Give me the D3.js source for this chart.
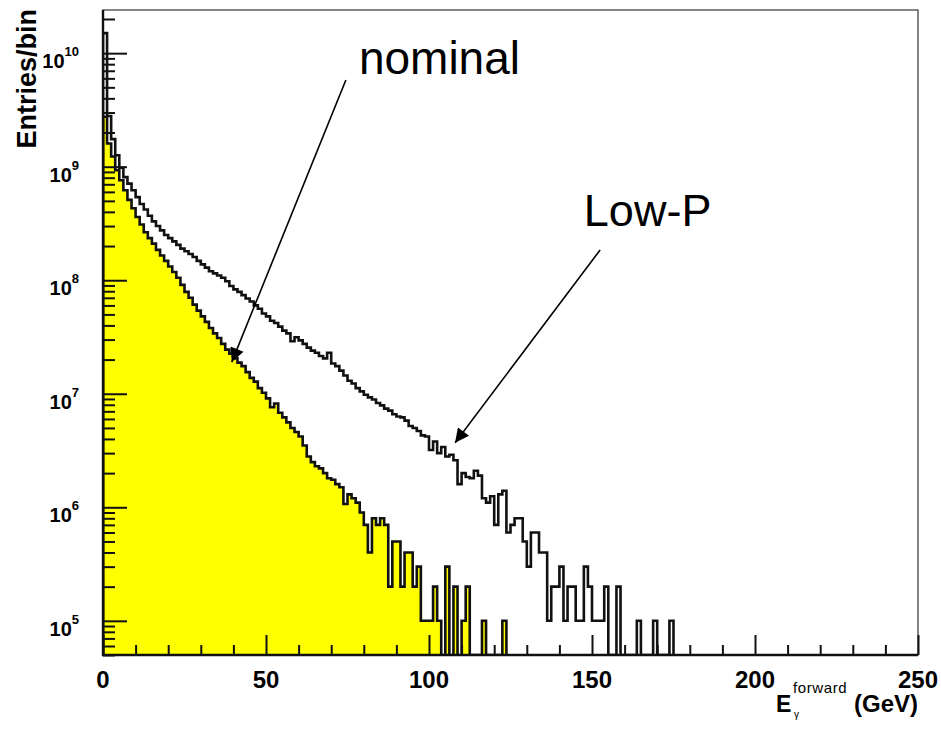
<!DOCTYPE html>
<html>
<head>
<meta charset="utf-8">
<script src="https://cdn.jsdelivr.net/npm/d3@7"></script>
<style>
  body { margin: 0; background: #fff; }
  svg { display: block; }
  text { font-family: "Liberation Sans", Arial, Helvetica, sans-serif; fill: #000; }
</style>
</head>
<body>
<svg id="chart" width="941" height="730"></svg>
<script>
// histogram binning (GeV)
const binWidth = 1.25;

// entries per bin, nominal (yellow filled)
const nominal = [
  2.75e9, 1.6e9, 1.23e9, 9.3e8, 7.6e8, 6.2e8, 5.1e8, 4.3e8, 3.6e8, 3.1e8,
  2.65e8, 2.35e8, 2.1e8, 1.85e8, 1.65e8, 1.48e8, 1.32e8, 1.18e8, 1.05e8, 9.1e7,
  7.9e7, 7.0e7, 6.1e7, 5.4e7, 4.8e7, 4.3e7, 3.8e7, 3.4e7, 3.1e7, 2.75e7,
  2.45e7, 2.25e7, 2.05e7, 1.88e7, 1.75e7, 1.55e7, 1.38e7, 1.28e7, 1.12e7, 1.02e7,
  9.1e6, 7.6e6, 8.2e6, 6.8e6, 6.2e6, 5.6e6, 5.0e6, 4.6e6, 4.2e6, 3.5e6,
  2.8e6, 2.5e6, 2.3e6, 2.2e6, 2.0e6, 1.8e6, 1.75e6, 1.6e6, 1.5e6, 1.07e6,
  1.3e6, 1.2e6, 1.1e6, 9e5, 7e5, 4e5, 8e5, 7e5, 8e5, 7e5,
  2e5, 5e5, 5e5, 2e5, 4e5, 4e5, 2e5, 3e5, 1e5, 1e5,
  1e5, 2e5, 1e5, 0, 3e5, 0, 2e5, 0, 1e5, 2e5,
  0, 0, 0, 1e5, 0, 0, 0, 0, 1e5
];

// entries per bin, Low-P (outline only)
const lowP = [
  1.5e10, 2.8e9, 1.75e9, 1.26e9, 9.8e8, 8.1e8, 7.1e8, 6.2e8, 5.4e8, 4.7e8,
  4.2e8, 3.7e8, 3.3e8, 3.0e8, 2.75e8, 2.5e8, 2.35e8, 2.2e8, 2.05e8, 1.9e8,
  1.8e8, 1.7e8, 1.6e8, 1.48e8, 1.38e8, 1.29e8, 1.2e8, 1.15e8, 1.1e8, 1.05e8,
  9.8e7, 8.9e7, 8.3e7, 7.9e7, 7.4e7, 6.9e7, 6.5e7, 6.0e7, 5.6e7, 5.1e7,
  4.8e7, 4.4e7, 4.2e7, 3.9e7, 3.6e7, 3.4e7, 2.9e7, 3.15e7, 2.95e7, 2.75e7,
  2.55e7, 2.4e7, 2.3e7, 2.15e7, 2.05e7, 2.3e7, 1.85e7, 1.75e7, 1.6e7, 1.45e7,
  1.3e7, 1.23e7, 1.12e7, 1.05e7, 9.8e6, 9.3e6, 8.9e6, 8.3e6, 7.9e6, 7.4e6,
  7.1e6, 6.6e6, 6.3e6, 6.2e6, 5.8e6, 5.2e6, 5.0e6, 4.7e6, 4.3e6, 4.2e6,
  3.2e6, 3.8e6, 3.0e6, 3.4e6, 2.8e6, 2.9e6, 2.6e6, 1.6e6, 2.0e6, 1.85e6,
  1.8e6, 2.1e6, 1.9e6, 1.2e6, 1.1e6, 1.25e6, 7e5, 1.3e6, 1.4e6, 6e5,
  7e5, 8e5, 8e5, 5e5, 3e5, 6e5, 6e5, 4e5, 4e5, 1e5,
  2e5, 2e5, 3e5, 1e5, 2e5, 2e5, 1e5, 1e5, 3e5, 2e5,
  1e5, 1e5, 1e5, 2e5, 0, 0, 2e5, 0, 0, 0,
  0, 1e5, 0, 0, 0, 1e5, 0, 0, 0, 1e5
];

// axis ticks / labels
const xTicks = [0, 50, 100, 150, 200, 250];
const yDecades = [5, 6, 7, 8, 9, 10];

// annotations (data coordinates)
const labels = [
  { text: "nominal", x: 78.5, y: 6.6e9, size: 46, tipX: 39.5, tipY: 1.9e7, fromX: 74.5, fromY: 5.8e9 },
  { text: "Low-P", x: 147.5, y: 3.0e8, size: 45, tipX: 108, tipY: 3.7e6, fromX: 152.5, fromY: 1.85e8 }
];

const margin = { top: 10, right: 23, bottom: 75, left: 103 };
const width = 941 - margin.left - margin.right;
const height = 730 - margin.top - margin.bottom;
const yMin = 5e4, yMax = 2.4e10;

const svg = d3.select("#chart");
const g = svg.append("g").attr("transform", "translate(" + margin.left + "," + margin.top + ")");

const x = d3.scaleLinear().domain([0, 250]).range([0, width]);
const y = d3.scaleLog().domain([yMin, yMax]).range([height, 0]);

svg.append("defs").append("clipPath").attr("id", "plotclip")
  .append("rect").attr("x", 0).attr("y", 0).attr("width", width).attr("height", height);

function steps(counts) {
  const pts = [[x(0), height]];
  counts.forEach(function (c, i) {
    const yy = c > 0 ? y(Math.min(c, yMax)) : height;
    pts.push([x(i * binWidth), yy], [x((i + 1) * binWidth), yy]);
  });
  pts.push([x(counts.length * binWidth), height]);
  return pts;
}

const line = d3.line();
const plot = g.append("g").attr("clip-path", "url(#plotclip)");

// nominal fill
plot.append("path")
  .attr("d", line(steps(nominal)) + "Z")
  .attr("fill", "#ffff00")
  .attr("stroke", "none");

// Low-P outline
plot.append("path")
  .attr("d", line(steps(lowP)))
  .attr("fill", "none")
  .attr("stroke", "#111")
  .attr("stroke-width", 2.6);

// nominal outline
plot.append("path")
  .attr("d", line(steps(nominal)))
  .attr("fill", "none")
  .attr("stroke", "#111")
  .attr("stroke-width", 2.6);

// frame (top / right)
g.append("rect")
  .attr("x", 0).attr("y", 0).attr("width", width).attr("height", height)
  .attr("fill", "none").attr("stroke", "#444").attr("stroke-width", 1.3);

// Y axis: ticks point inward
const yAll = y.ticks().filter(function (v) { return v >= yMin && v <= yMax; });
const yMajor = yDecades.map(function (e) { return Math.pow(10, e); });
const yMinor = yAll.filter(function (v) { return yMajor.indexOf(v) < 0; });

g.append("g")
  .call(d3.axisRight(y).tickValues(yMinor).tickSize(12).tickFormat(""))
  .call(function (a) { a.select(".domain").remove(); });
g.append("g")
  .call(d3.axisRight(y).tickValues(yMajor).tickSize(24).tickFormat(""))
  .call(function (a) { a.select(".domain").remove(); });

// X axis: ticks point inward
const xMinor = d3.range(0, 251, 10).filter(function (v) { return xTicks.indexOf(v) < 0; });
g.append("g").attr("transform", "translate(0," + height + ")")
  .call(d3.axisTop(x).tickValues(xMinor).tickSize(10).tickFormat(""))
  .call(function (a) { a.select(".domain").remove(); });
g.append("g").attr("transform", "translate(0," + height + ")")
  .call(d3.axisTop(x).tickValues(xTicks).tickSize(20).tickFormat(""))
  .call(function (a) { a.select(".domain").remove(); });

g.selectAll(".tick line").attr("stroke", "#111").attr("stroke-width", 2);

// axis lines
g.append("line").attr("x1", 0).attr("x2", 0).attr("y1", 0).attr("y2", height + 1)
  .attr("stroke", "#111").attr("stroke-width", 2.4);
g.append("line").attr("x1", -1).attr("x2", width).attr("y1", height).attr("y2", height)
  .attr("stroke", "#111").attr("stroke-width", 2.4);

// y tick labels 10^n
const yl = g.append("g").selectAll("text").data(yDecades).enter().append("text")
  .attr("x", -24)
  .attr("y", function (d) { return y(Math.pow(10, d)) + 15; })
  .attr("text-anchor", "end")
  .attr("font-weight", "bold");
yl.append("tspan").attr("font-size", 20).text("10");
yl.append("tspan").attr("font-size", 13).attr("dy", -12).text(function (d) { return d; });

// x tick labels
g.append("g").selectAll("text").data(xTicks).enter().append("text")
  .attr("x", function (d) { return x(d); })
  .attr("y", height + 33)
  .attr("text-anchor", "middle")
  .attr("font-size", 24)
  .attr("font-weight", "bold")
  .text(function (d) { return d; });

// axis titles
svg.append("text")
  .attr("transform", "translate(36,9) rotate(-90)")
  .attr("text-anchor", "end")
  .attr("font-size", 27)
  .attr("font-weight", "bold")
  .text("Entries/bin");

const xt = svg.append("g");
xt.append("text").attr("x", 918).attr("y", 712).attr("text-anchor", "end")
  .attr("font-size", 24).attr("font-weight", "bold").text("(GeV)");
xt.append("text").attr("x", 776).attr("y", 712)
  .attr("font-size", 23).attr("font-weight", "bold").text("E");
xt.append("text").attr("x", 793).attr("y", 693)
  .attr("font-size", 15).attr("letter-spacing", 0.6).text("forward");
xt.append("text").attr("x", 794).attr("y", 718)
  .attr("font-size", 10).text("γ");

// annotations
svg.append("defs").append("marker")
  .attr("id", "head").attr("viewBox", "0 0 10 10")
  .attr("refX", 10).attr("refY", 5)
  .attr("markerWidth", 17).attr("markerHeight", 14)
  .attr("markerUnits", "userSpaceOnUse")
  .attr("orient", "auto")
  .append("path").attr("d", "M0,0 L10,5 L0,10 Z").attr("fill", "#000");

const ann = g.append("g");
labels.forEach(function (l) {
  ann.append("line")
    .attr("x1", x(l.fromX)).attr("y1", y(l.fromY))
    .attr("x2", x(l.tipX)).attr("y2", y(l.tipY))
    .attr("stroke", "#000").attr("stroke-width", 1.6)
    .attr("marker-end", "url(#head)");
  ann.append("text")
    .attr("x", x(l.x)).attr("y", y(l.y))
    .attr("font-size", l.size)
    .text(l.text);
});
</script>
</body>
</html>
